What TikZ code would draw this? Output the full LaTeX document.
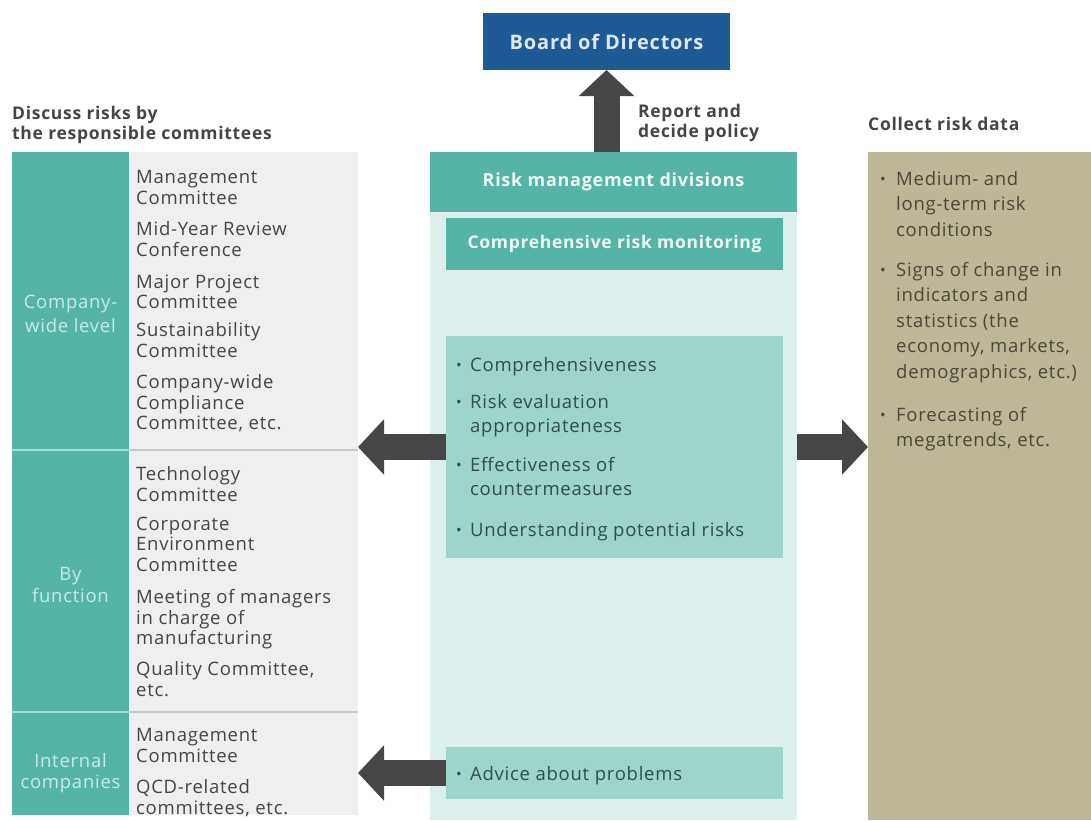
\documentclass[tikz,border=0pt]{standalone}
\usepackage{fontspec}
\setmainfont{Open Sans}[LetterSpace=4]
\usetikzlibrary{arrows.meta}
\definecolor{boardblue}{HTML}{1E5A96}
\definecolor{boardtxt}{HTML}{DCE8F5}
\definecolor{tealA}{HTML}{55B4A6}
\definecolor{tealtxt}{HTML}{EEF9F6}
\definecolor{labeltxt}{HTML}{C6EBE4}
\definecolor{panelC}{HTML}{DDEFEC}
\definecolor{midbox}{HTML}{9DD4CB}
\definecolor{grayP}{HTML}{EFEFEF}
\definecolor{sepG}{HTML}{C8C8C8}
\definecolor{sepT}{HTML}{A4DBD2}
\definecolor{tanP}{HTML}{BDB699}
\definecolor{arrowC}{HTML}{474545}
\definecolor{txtD}{HTML}{454545}
\definecolor{txtB}{HTML}{2E4F4B}
\definecolor{txtT}{HTML}{4B4739}
\begin{document}
\begin{tikzpicture}[x=1pt,y=-1pt,
  area/.style={anchor=north west, inner sep=0pt, outer sep=0pt, draw=none},
  item/.style={anchor=north west, inner sep=0pt, align=left, text=txtD, font=\fontsize{18.5}{20.5}\selectfont},
  grp/.style={anchor=north, inner sep=0pt, align=center, text=labeltxt, font=\fontsize{18.5}{22}\selectfont},
  head/.style={anchor=north west, inner sep=0pt, align=left, text=txtD, font=\bfseries\fontsize{17.5}{20}\selectfont},
  btext/.style={anchor=north west, inner sep=0pt, align=left, font=\fontsize{18.5}{24.5}\selectfont},
  dot/.style={inner sep=0pt, anchor=base, font=\fontsize{15}{15}\selectfont},
  blockarrow/.style={draw=arrowC, line width=26pt, -{Triangle[length=26pt,width=54pt]}},
]
\useasboundingbox (0,0) rectangle (1091,820);

% backgrounds
\node[area, fill=boardblue, minimum width=247pt, minimum height=57pt] (board) at (483,13) {};
\node[text=boardtxt, font=\bfseries\fontsize{20}{20}\selectfont, inner sep=0pt] (boardlbl) at (board.center) {Board of Directors};

\node[area, fill=panelC, minimum width=367pt, minimum height=608pt] (panel) at (430,212) {};
\node[area, fill=tealA, minimum width=367pt, minimum height=60pt] (rmd) at (430,152) {};
\node[text=tealtxt, font=\bfseries\fontsize{18}{18}\selectfont, inner sep=0pt] (rmdlbl) at (rmd.center) {Risk management divisions};

\node[area, fill=tealA, minimum width=337pt, minimum height=52pt] (crm) at (446,218) {};
\node[text=tealtxt, font=\bfseries\fontsize{17.5}{17.5}\selectfont, inner sep=0pt] (crmlbl) at (crm.center) {Comprehensive risk monitoring};

\node[area, fill=midbox, minimum width=337pt, minimum height=222pt] (bul) at (446,336) {};
\node[area, fill=midbox, minimum width=337pt, minimum height=52pt] (adv) at (446,747) {};

\node[area, fill=tealA, minimum width=117pt, minimum height=663pt] (tealcol) at (12,152) {};
\node[area, fill=grayP, minimum width=229pt, minimum height=663pt] (gray) at (129,152) {};
\node[area, fill=tanP, minimum width=223pt, minimum height=668pt] (tan) at (868,152) {};

% separators
\draw[sepG, line width=1.5pt] (129,450) -- (358,450);
\draw[sepG, line width=1.5pt] (129,712) -- (358,712);
\draw[sepT, line width=2pt] (12,450) -- (129,450);
\draw[sepT, line width=2pt] (12,712) -- (129,712);

% headings
\node[head] (h1) at (12,106) {Discuss risks by\\the responsible committees};
\node[head] (h2) at (638,104) {Report and\\decide policy};
\node[head] (h3) at (868,117) {Collect risk data};

% group labels
\node[grp, font=\fontsize{18.5}{24}\selectfont] (g1) at (70.5,295) {Company-\\wide level};
\node[grp] (g2) at (70.5,567) {By\\function};
\node[grp, font=\fontsize{18.5}{21}\selectfont] (g3) at (70.5,753) {Internal\\companies};

% committee items
\node[item] (c1) at (136,170.5) {Management\\Committee};
\node[item] (c2) at (136,221.5) {Mid-Year Review\\Conference};
\node[item] (c3) at (136,274.5) {Major Project\\Committee};
\node[item] (c4) at (136,322.5) {Sustainability\\Committee};
\node[item] (c5) at (136,374.5) {Company-wide\\Compliance\\Committee, etc.};
\node[item] (c6) at (136,466.5) {Technology\\Committee};
\node[item] (c7) at (136,516.5) {Corporate\\Environment\\Committee};
\node[item] (c8) at (136,589.5) {Meeting of managers\\in charge of\\manufacturing};
\node[item] (c9) at (136,661.5) {Quality Committee,\\etc.};
\node[item] (c10) at (136,728.5) {Management\\Committee};
\node[item] (c11) at (136,779.5) {QCD-related\\committees, etc.};

% monitoring bullets
\node[btext, text=txtB] (b1) at (470,357) {Comprehensiveness};
\node[btext, text=txtB] (b2) at (470,394) {Risk evaluation\\appropriateness};
\node[btext, text=txtB] (b3) at (470,457) {Effectiveness of\\countermeasures};
\node[btext, text=txtB] (b4) at (470,522) {Understanding potential risks};
\node[dot, text=txtB] (d1) at (459,370.5) {•};
\node[dot, text=txtB] (d2) at (459,407.5) {•};
\node[dot, text=txtB] (d3) at (459,470.5) {•};
\node[dot, text=txtB] (d4) at (459,535.5) {•};

\node[btext, text=txtB] (a1) at (470,766) {Advice about problems};
\node[dot, text=txtB] (d5) at (459,779.5) {•};

% right panel bullets
\node[btext, text=txtT, font=\fontsize{18.5}{25.5}\selectfont] (r1) at (896,171) {Medium- and\\long-term risk\\conditions};
\node[btext, text=txtT, font=\fontsize{18.5}{25.5}\selectfont] (r2) at (896,262) {Signs of change in\\indicators and\\statistics (the\\economy, markets,\\demographics, etc.)};
\node[btext, text=txtT, font=\fontsize{18.5}{25.5}\selectfont] (r3) at (896,407) {Forecasting of\\megatrends, etc.};
\node[dot, text=txtT] (d6) at (883,184.5) {•};
\node[dot, text=txtT] (d7) at (883,275.5) {•};
\node[dot, text=txtT] (d8) at (883,420.5) {•};

% arrows
\draw[blockarrow] (board.south |- rmd.north) -- (board.south);
\draw[blockarrow] (bul.west) -- (gray.east |- bul.west);
\draw[blockarrow] (bul.east -| panel.east) -- (bul.east -| tan.west);
\draw[blockarrow] (adv.west) -- (gray.east |- adv.west);
\end{tikzpicture}
\end{document}
